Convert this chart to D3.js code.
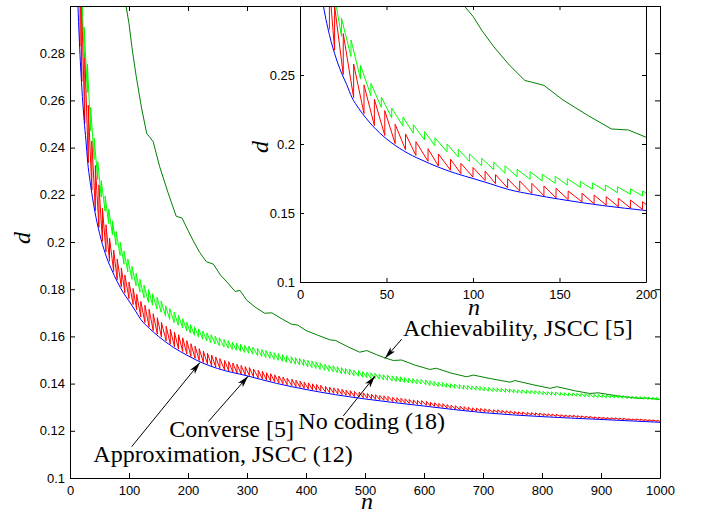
<!DOCTYPE html>
<html>
<head>
<meta charset="utf-8">
<script src="https://cdnjs.cloudflare.com/ajax/libs/d3/7.8.5/d3.min.js"></script>
<style>
  body { margin: 0; background: #fff; }
  svg { display: block; }
  .tick text { font-family: "Liberation Sans", Arial, sans-serif; font-size: 13px; fill: #000; }
  .ann { font-family: "Liberation Serif", "Times New Roman", serif; font-size: 24px; fill: #000; }
  .axlabel { font-family: "Liberation Serif", "Times New Roman", serif; font-style: italic; font-size: 24px; fill: #000; }
</style>
</head>
<body>
<svg width="704" height="514"></svg>
<script>
// Tick values
const xTicksMain = [0, 100, 200, 300, 400, 500, 600, 700, 800, 900, 1000];
const yTicksMain = [0.1, 0.12, 0.14, 0.16, 0.18, 0.2, 0.22, 0.24, 0.26, 0.28];
const xTicksInset = [0, 50, 100, 150, 200];
const yTicksInset = [0.1, 0.15, 0.2, 0.25];

// Approximation, JSCC (12) - blue
const blueN = [12, 13, 14, 15, 16, 18, 20, 22, 24, 27, 30, 34, 38, 42, 46, 50, 55, 60, 65, 70, 80, 90, 100, 110, 120, 135, 150, 175, 200, 225, 250, 300, 350, 400, 450, 500, 600, 700, 800, 900, 1000];
const blueD = [0.312, 0.304, 0.2968, 0.2903, 0.2845, 0.2742, 0.2656, 0.258, 0.2515, 0.243, 0.2338, 0.2257, 0.219, 0.2131, 0.2081, 0.2037, 0.199, 0.195, 0.1915, 0.1886, 0.1832, 0.1787, 0.175, 0.1712, 0.1672, 0.1633, 0.16, 0.1554, 0.1518, 0.1487, 0.1464, 0.1433, 0.1401, 0.1375, 0.1353, 0.1335, 0.1305, 0.1277, 0.126, 0.1248, 0.1236];

// Achievability, JSCC [5] - dark green
const darkN = [93, 95, 100, 105, 112, 121, 130, 134, 141, 152, 166, 180, 190, 200, 210, 220, 231, 243, 255, 268, 280, 288, 300, 315, 330, 342, 360, 375, 386, 400, 420, 441, 450, 470, 491, 503, 520, 535, 548, 562, 585, 610, 621, 645, 672, 684, 715, 746, 754, 785, 814, 825, 855, 881, 895, 930, 966, 975, 1000];
const darkD = [0.304, 0.300, 0.2925, 0.2825, 0.2705, 0.2572, 0.246, 0.2448, 0.2425, 0.2319, 0.221, 0.2109, 0.2101, 0.2049, 0.2, 0.1955, 0.1917, 0.1906, 0.186, 0.1825, 0.179, 0.1795, 0.1752, 0.1722, 0.1698, 0.17, 0.1673, 0.1652, 0.1648, 0.1625, 0.1605, 0.1585, 0.1583, 0.1557, 0.1533, 0.154, 0.1522, 0.1508, 0.1498, 0.15, 0.1478, 0.146, 0.1465, 0.1445, 0.1429, 0.1436, 0.142, 0.1406, 0.1413, 0.1395, 0.138, 0.1387, 0.137, 0.1358, 0.1361, 0.1347, 0.1337, 0.1339, 0.1333];

// Converse [5] - red teeth: [n, value before jump, value after jump]
const redTeeth = [
  [17, 0.283, 0.315], [20, 0.268, 0.300], [25, 0.2504, 0.280], [31, 0.2336, 0.258], [37, 0.222, 0.2428],
  [43, 0.2133, 0.2324], [49, 0.2062, 0.2242], [55, 0.2003, 0.2143], [61, 0.1958, 0.2073], [67, 0.1918, 0.2017],
  [74, 0.1875, 0.1966], [80, 0.184, 0.1928], [87, 0.181, 0.189], [93, 0.1785, 0.186], [100, 0.176, 0.183],
  [107, 0.1735, 0.1803], [113, 0.1713, 0.1778], [120, 0.1682, 0.1748], [127, 0.1659, 0.1732], [134, 0.1641, 0.1715],
  [141, 0.1625, 0.1696], [148, 0.161, 0.1679], [155, 0.1597, 0.1659], [163, 0.1581, 0.1643], [170, 0.1567, 0.163],
  [177, 0.1557, 0.1618], [184, 0.1546, 0.1607], [191, 0.1536, 0.1594], [198, 0.1526, 0.1582],
  [205, 0.1515, 0.1569], [212, 0.1507, 0.1559], [219, 0.1498, 0.1548], [226, 0.149, 0.1538], [233, 0.1483, 0.1529],
  [240, 0.1476, 0.1521], [247, 0.147, 0.1513], [254, 0.1464, 0.1506], [262, 0.1458, 0.1498], [269, 0.1454, 0.1493],
  [276, 0.1449, 0.1487], [283, 0.1445, 0.1482], [290, 0.1441, 0.1477], [297, 0.1437, 0.1472], [304, 0.1434, 0.1468],
  [311, 0.1429, 0.1462], [319, 0.1424, 0.1457], [326, 0.142, 0.1452], [333, 0.1415, 0.1446], [340, 0.1411, 0.1442],
  [347, 0.1407, 0.1437], [354, 0.1403, 0.1432], [361, 0.1399, 0.1428], [368, 0.1395, 0.1423], [376, 0.1391, 0.1419],
  [383, 0.1387, 0.1414], [390, 0.1384, 0.1411], [397, 0.138, 0.1406], [404, 0.1377, 0.1403], [411, 0.1374, 0.1399],
  [418, 0.1371, 0.1396], [425, 0.1368, 0.1393], [433, 0.1364, 0.1388], [440, 0.1361, 0.1385], [447, 0.1359, 0.1382],
  [454, 0.1356, 0.1379], [461, 0.1353, 0.1376], [468, 0.135, 0.1372], [475, 0.1348, 0.137], [482, 0.1345, 0.1367],
  [490, 0.1343, 0.1364], [497, 0.134, 0.1361], [504, 0.1338, 0.1358], [511, 0.1335, 0.1355], [518, 0.1333, 0.1353],
  [525, 0.1331, 0.135], [532, 0.1329, 0.1348], [539, 0.1327, 0.1346], [547, 0.1324, 0.1342], [554, 0.1322, 0.134],
  [561, 0.132, 0.1338], [568, 0.1318, 0.1336], [575, 0.1316, 0.1333], [582, 0.1314, 0.1331], [589, 0.1312, 0.1329],
  [596, 0.1311, 0.1328], [604, 0.1308, 0.1325], [611, 0.1305, 0.1321], [618, 0.1303, 0.1319], [625, 0.13, 0.1316],
  [632, 0.1299, 0.1315], [639, 0.1296, 0.1311], [646, 0.1294, 0.1309], [653, 0.1292, 0.1306], [661, 0.129, 0.1304],
  [668, 0.1288, 0.1302], [675, 0.1286, 0.13], [682, 0.1284, 0.1297], [689, 0.1283, 0.1296], [696, 0.1282, 0.1295],
  [703, 0.128, 0.1293], [710, 0.1279, 0.1291], [718, 0.1277, 0.1289], [725, 0.1277, 0.1289], [732, 0.1275, 0.1286],
  [739, 0.1274, 0.1285], [746, 0.1273, 0.1284], [753, 0.1271, 0.1282], [760, 0.127, 0.128], [767, 0.1269, 0.1279],
  [775, 0.1268, 0.1278], [782, 0.1267, 0.1277], [789, 0.1266, 0.1276], [796, 0.1265, 0.1275], [803, 0.1264, 0.1273],
  [810, 0.1263, 0.1272], [817, 0.1262, 0.1271], [824, 0.1261, 0.127], [832, 0.126, 0.1268], [839, 0.1259, 0.1267],
  [846, 0.1258, 0.1266], [853, 0.1258, 0.1266], [860, 0.1257, 0.1264], [867, 0.1256, 0.1263], [874, 0.1255, 0.1262],
  [881, 0.1254, 0.1261], [889, 0.1252, 0.1259], [896, 0.1251, 0.1258], [903, 0.1251, 0.1257], [910, 0.125, 0.1256],
  [917, 0.1249, 0.1255], [924, 0.1249, 0.1255], [931, 0.1248, 0.1254], [938, 0.1247, 0.1253], [946, 0.1246, 0.1251],
  [953, 0.1245, 0.125], [960, 0.1245, 0.125], [967, 0.1244, 0.1249], [974, 0.1243, 0.1248], [981, 0.1242, 0.1247],
  [988, 0.1241, 0.1246], [995, 0.124, 0.1245], [1000, 0.124, 0.124]
];

// No coding (18) - green teeth: [n, value before jump, value after jump]
const greenTeeth = [
  [18.5, 0.300, 0.318], [24, 0.278, 0.291], [29.5, 0.2634, 0.2754], [35, 0.247, 0.257], [41, 0.235, 0.244],
  [47, 0.2265, 0.234], [53, 0.219, 0.226], [59.5, 0.213, 0.2195], [65.5, 0.2078, 0.214], [72, 0.203, 0.209],
  [78, 0.1987, 0.2045], [85, 0.1943, 0.2], [91.5, 0.1906, 0.1962], [98, 0.1873, 0.1928], [105, 0.1842, 0.1897],
  [112, 0.1814, 0.1868], [118.5, 0.1788, 0.1842], [125.5, 0.1763, 0.1817], [133, 0.1744, 0.1799], [140, 0.1732, 0.1781],
  [147.5, 0.1715, 0.1766], [154.5, 0.1702, 0.175], [162, 0.1686, 0.173], [169, 0.1672, 0.1718], [176.5, 0.1659, 0.1703],
  [183.5, 0.1647, 0.169], [191, 0.1636, 0.1675], [198, 0.1623, 0.166],
  [204, 0.1614, 0.165], [211, 0.1605, 0.1641], [218, 0.1597, 0.1632], [225, 0.1588, 0.1623], [232, 0.1581, 0.1615],
  [239, 0.1573, 0.1607], [246, 0.1568, 0.1601], [253, 0.1561, 0.1594], [261, 0.1555, 0.1587], [268, 0.155, 0.1582],
  [275, 0.1545, 0.1576], [282, 0.1541, 0.1572], [289, 0.1537, 0.1567], [296, 0.1532, 0.1562], [303, 0.1529, 0.1559],
  [310, 0.1524, 0.1554], [318, 0.1519, 0.1549], [325, 0.1515, 0.1545], [332, 0.151, 0.154], [339, 0.1507, 0.1535],
  [346, 0.1503, 0.1531], [353, 0.1499, 0.1527], [360, 0.1495, 0.1523], [367, 0.149, 0.1518], [375, 0.1486, 0.1514],
  [382, 0.1482, 0.151], [389, 0.1479, 0.1507], [396, 0.1475, 0.1503], [403, 0.1471, 0.1499], [410, 0.1468, 0.1496],
  [417, 0.1464, 0.1492], [424, 0.146, 0.1488], [432, 0.1456, 0.1482], [439, 0.1452, 0.1478], [446, 0.145, 0.1476],
  [453, 0.1446, 0.1472], [460, 0.1442, 0.1468], [467, 0.144, 0.1464], [474, 0.1437, 0.1461], [481, 0.1433, 0.1457],
  [489, 0.1431, 0.1455], [496, 0.1427, 0.1451], [503, 0.1425, 0.1449], [510, 0.1422, 0.1446], [517, 0.142, 0.1444],
  [524, 0.1419, 0.1441], [531, 0.1416, 0.1438], [538, 0.1414, 0.1436], [546, 0.1411, 0.1433], [553, 0.1409, 0.1431],
  [560, 0.1407, 0.1429], [567, 0.1405, 0.1425], [574, 0.1403, 0.1423], [581, 0.1401, 0.1421], [588, 0.1399, 0.1419],
  [595, 0.1398, 0.1418], [603, 0.1395, 0.1415], [610, 0.1392, 0.1412], [617, 0.139, 0.141], [624, 0.1388, 0.1406],
  [631, 0.1387, 0.1405], [638, 0.1384, 0.1402], [645, 0.1382, 0.14], [652, 0.138, 0.1398], [660, 0.1378, 0.1396],
  [667, 0.1376, 0.1394], [674, 0.1375, 0.1392], [681, 0.1373, 0.139], [688, 0.1372, 0.1389], [695, 0.1371, 0.1388],
  [702, 0.1369, 0.1386], [709, 0.1368, 0.1384], [717, 0.1366, 0.1382], [724, 0.1366, 0.1382], [731, 0.1364, 0.138],
  [738, 0.1363, 0.1379], [745, 0.1362, 0.1377], [752, 0.1361, 0.1375], [759, 0.136, 0.1374], [766, 0.1359, 0.1373],
  [774, 0.1358, 0.1372], [781, 0.1357, 0.1371], [788, 0.1356, 0.137], [795, 0.1355, 0.1369], [802, 0.1353, 0.1367],
  [809, 0.1352, 0.1366], [816, 0.1351, 0.1365], [823, 0.135, 0.1364], [831, 0.135, 0.1362], [838, 0.1349, 0.1361],
  [845, 0.1348, 0.136], [852, 0.1348, 0.136], [859, 0.1347, 0.1359], [866, 0.1346, 0.1358], [873, 0.1345, 0.1357],
  [880, 0.1344, 0.1356], [888, 0.1342, 0.1354], [895, 0.1341, 0.1353], [902, 0.1341, 0.1353], [909, 0.134, 0.1352],
  [916, 0.134, 0.1351], [923, 0.134, 0.1351], [930, 0.1339, 0.135], [937, 0.1338, 0.1349], [945, 0.1337, 0.1347],
  [952, 0.1336, 0.1346], [959, 0.1336, 0.1346], [966, 0.1335, 0.1345], [973, 0.1334, 0.1344], [980, 0.1333, 0.1343],
  [987, 0.1332, 0.1342], [994, 0.1331, 0.1341], [1000, 0.1331, 0.1331]
];

const annotations = ["Achievability, JSCC [5]", "No coding (18)", "Converse [5]", "Approximation, JSCC (12)"];

const svg = d3.select('svg');
const font = '"Liberation Sans", Arial, sans-serif';

// Scales
const xMain = d3.scaleLinear().domain([0, 1000]).range([70, 660]);
const yMain = d3.scaleLinear().domain([0.1, 0.3]).range([478, 6]);
const xIn = d3.scaleLinear().domain([0, 200]).range([300, 646]);
const yIn = d3.scaleLinear().domain([0.1, 0.3]).range([282, 6]);

const defs = svg.append('defs');
defs.append('clipPath').attr('id', 'clipMain').append('rect')
  .attr('x', 70).attr('y', 6).attr('width', 590).attr('height', 472);
defs.append('clipPath').attr('id', 'clipIn').append('rect')
  .attr('x', 300).attr('y', 6).attr('width', 346).attr('height', 276);
defs.append('marker')
  .attr('id', 'arrow')
  .attr('markerUnits', 'userSpaceOnUse')
  .attr('markerWidth', 13).attr('markerHeight', 8)
  .attr('refX', 12).attr('refY', 4)
  .attr('orient', 'auto')
  .append('path')
  .attr('d', 'M0,0.8 L12,4 L0,7.2 L3,4 Z')
  .attr('fill', '#000');

// turns [n, before, after] teeth into a polyline with vertical jumps
function teethPoints(teeth) {
  return teeth.flatMap(t => [[t[0], t[1]], [t[0], t[2]]]);
}

function drawCurves(g, x, y) {
  const line = d3.line().x(p => x(p[0])).y(p => y(p[1]));
  const smooth = d3.line().x(p => x(p[0])).y(p => y(p[1])).curve(d3.curveMonotoneX);

  g.append('path')
    .attr('d', line(darkN.map((n, i) => [n, darkD[i]])))
    .attr('fill', 'none').attr('stroke', '#008000').attr('stroke-width', 1);
  g.append('path')
    .attr('d', line(teethPoints(redTeeth)))
    .attr('fill', 'none').attr('stroke', '#ff0000').attr('stroke-width', 1);
  g.append('path')
    .attr('d', smooth(blueN.map((n, i) => [n, blueD[i]])))
    .attr('fill', 'none').attr('stroke', '#0000ff').attr('stroke-width', 1);
  g.append('path')
    .attr('d', line(teethPoints(greenTeeth)))
    .attr('fill', 'none').attr('stroke', '#00ff00').attr('stroke-width', 1);
}

// Box with inward ticks on all four sides
function drawBox(x, y, xTicks, yTicks, tick, padX, padY) {
  const x0 = x.range()[0], x1 = x.range()[1];
  const y0 = y.range()[0], y1 = y.range()[1];
  const style = a => a.attr('font-family', font).attr('font-size', 13);

  svg.append('g').attr('transform', `translate(0,${y0})`)
    .call(d3.axisBottom(x).tickValues(xTicks).tickFormat(d => d)
      .tickSizeInner(-tick).tickSizeOuter(0).tickPadding(padX))
    .call(style);
  svg.append('g').attr('transform', `translate(0,${y1})`)
    .call(d3.axisTop(x).tickValues(xTicks).tickFormat(() => '')
      .tickSizeInner(-tick).tickSizeOuter(0));
  svg.append('g').attr('transform', `translate(${x0},0)`)
    .call(d3.axisLeft(y).tickValues(yTicks).tickFormat(d => d)
      .tickSizeInner(-tick).tickSizeOuter(0).tickPadding(padY))
    .call(style);
  svg.append('g').attr('transform', `translate(${x1},0)`)
    .call(d3.axisRight(y).tickValues(yTicks).tickFormat(() => '')
      .tickSizeInner(-tick).tickSizeOuter(0));
}

// Main chart
const gMain = svg.append('g').attr('clip-path', 'url(#clipMain)');
drawCurves(gMain, xMain, yMain);
drawBox(xMain, yMain, xTicksMain, yTicksMain, 5, 8, 5);

svg.append('text').attr('class', 'axlabel')
  .attr('x', 367).attr('y', 509).attr('text-anchor', 'middle').text('n');
svg.append('text').attr('class', 'axlabel')
  .attr('transform', 'translate(30,238) rotate(-90)')
  .attr('text-anchor', 'middle').text('d');

// Annotations with arrows (positions in data coordinates)
const annPos = [
  { text: [564.4, 0.1602], from: [562.2, 0.1588], to: [533.9, 0.1507] },
  { text: [387, 0.1208], from: [463.2, 0.1263], to: [517, 0.1432] },
  { text: [168.3, 0.1175], from: [234.4, 0.1239], to: [302.2, 0.1432] },
  { text: [39.5, 0.1068], from: [104.6, 0.1133], to: [220.3, 0.1489] }
];
annPos.forEach((a, i) => {
  svg.append('line')
    .attr('x1', xMain(a.from[0])).attr('y1', yMain(a.from[1]))
    .attr('x2', xMain(a.to[0])).attr('y2', yMain(a.to[1]))
    .attr('stroke', '#000').attr('stroke-width', 1)
    .attr('marker-end', 'url(#arrow)');
  svg.append('text').attr('class', 'ann')
    .attr('x', xMain(a.text[0])).attr('y', yMain(a.text[1]))
    .text(annotations[i]);
});

// Inset
svg.append('rect').attr('x', 300).attr('y', 6).attr('width', 346).attr('height', 276).attr('fill', '#fff');
const gIn = svg.append('g').attr('clip-path', 'url(#clipIn)');
drawCurves(gIn, xIn, yIn);
drawBox(xIn, yIn, xTicksInset, yTicksInset, 4, 8, 5);

svg.append('text').attr('class', 'axlabel')
  .attr('x', 474).attr('y', 315).attr('text-anchor', 'middle').text('n');
svg.append('text').attr('class', 'axlabel')
  .attr('transform', 'translate(268,147) rotate(-90)')
  .attr('text-anchor', 'middle').text('d');
</script>
</body>
</html>
